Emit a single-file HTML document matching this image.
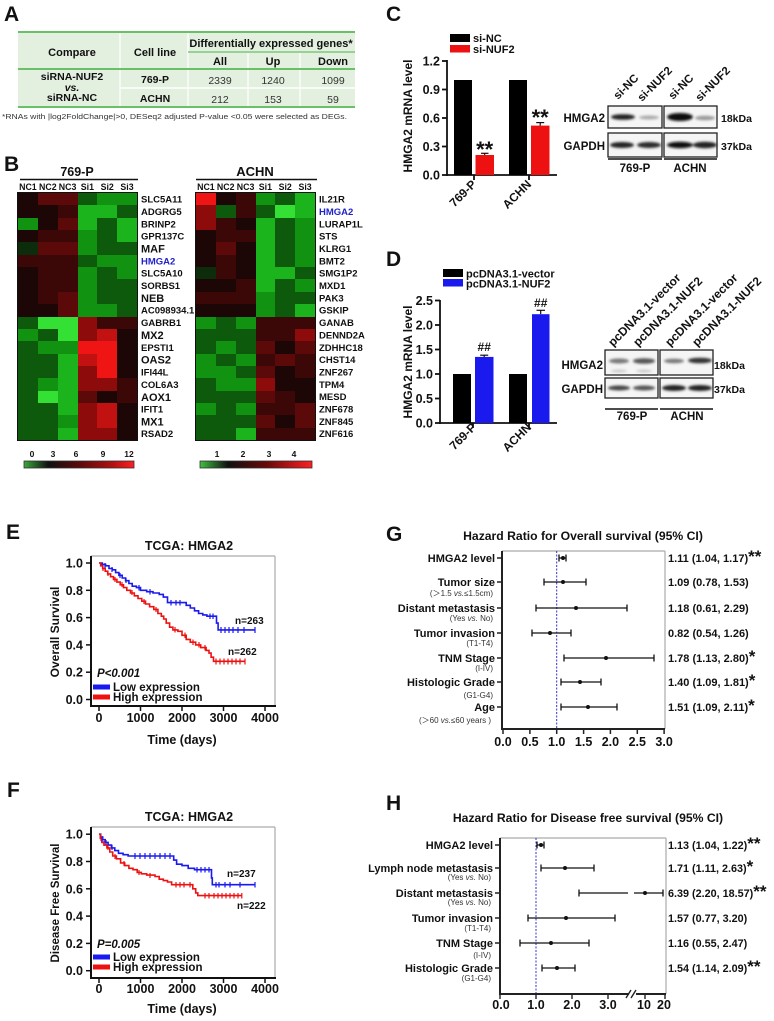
<!DOCTYPE html>
<html><head><meta charset="utf-8">
<style>
html,body{margin:0;padding:0;background:#fff;}
#w{position:relative;width:774px;height:1021px;overflow:hidden;background:#fff;}
svg{position:absolute;left:0;top:0;}
svg text{font-family:"Liberation Sans",Arial,sans-serif;font-weight:bold;fill:#111;}
.hm{position:absolute;width:119px;height:247px;display:grid;grid-template-columns:repeat(6,1fr);grid-template-rows:repeat(20,1fr);box-shadow:0 0 0 1px #111;}
.hm i{display:block}
.k{background:#1c0606}.a{background:#3c0707}.b{background:#5c0909}.c{background:#8e0b0b}.e{background:#c21111}.f{background:#f01515}
.o{background:#0c2c0c}.p{background:#0d5a0d}.q{background:#119211}.s{background:#1cb41c}.t{background:#34e034}
</style></head>
<body><div id="w">
<svg width="774" height="1021" viewBox="0 0 774 1021" xmlns="http://www.w3.org/2000/svg">
<defs>
<filter id="bl" x="-30%" y="-100%" width="160%" height="300%"><feGaussianBlur stdDeviation="1.3"/></filter>
<linearGradient id="cb1" x1="0" x2="1" y1="0" y2="0"><stop offset="0" stop-color="#3aa83a"/><stop offset="0.22" stop-color="#101010"/><stop offset="0.5" stop-color="#5a0a0a"/><stop offset="0.8" stop-color="#b01010"/><stop offset="1" stop-color="#ff2020"/></linearGradient>
<linearGradient id="cb2" x1="0" x2="1" y1="0" y2="0"><stop offset="0" stop-color="#40c040"/><stop offset="0.25" stop-color="#101010"/><stop offset="0.6" stop-color="#6a0a0a"/><stop offset="1" stop-color="#ff2020"/></linearGradient>
</defs>

<!-- Panel letters -->
<text x="4" y="21" font-size="21">A</text>
<text x="4" y="171" font-size="21">B</text>
<text x="386" y="21" font-size="21">C</text>
<text x="386" y="266" font-size="21">D</text>
<text x="6" y="539" font-size="21">E</text>
<text x="7" y="797" font-size="21">F</text>
<text x="386" y="541" font-size="21">G</text>
<text x="386" y="810" font-size="21">H</text>

<!-- Panel A table -->
<rect x="18" y="32" width="337" height="75" fill="#e3f0df"/>
<g stroke="#fff" stroke-width="1.2">
<line x1="120" y1="33" x2="120" y2="106"/><line x1="188" y1="33" x2="188" y2="106"/>
<line x1="248" y1="53" x2="248" y2="106"/><line x1="300" y1="53" x2="300" y2="106"/>
<line x1="120" y1="88" x2="355" y2="88" stroke-width="1.5"/>
</g>
<g stroke="#6abf69">
<line x1="18" y1="32" x2="355" y2="32" stroke-width="2"/>
<line x1="188" y1="52" x2="355" y2="52" stroke-width="1.3"/>
<line x1="18" y1="69" x2="355" y2="69" stroke-width="2"/>
<line x1="18" y1="107" x2="355" y2="107" stroke-width="2"/>
</g>
<g font-size="11" text-anchor="middle">
<text x="72" y="56">Compare</text>
<text x="155" y="56">Cell line</text>
<text x="271" y="47">Differentially expressed genes*</text>
<text x="220" y="65">All</text><text x="273" y="65">Up</text><text x="333" y="65">Down</text>
</g>
<g font-size="10.5" text-anchor="middle">
<text x="72" y="80">siRNA-NUF2</text>
<text x="72" y="91" font-style="italic">vs.</text>
<text x="72" y="101">siRNA-NC</text>
<text x="155" y="83">769-P</text>
<text x="155" y="102">ACHN</text>
</g>
<g font-size="10.5" text-anchor="middle">
<text x="220" y="84" style="font-weight:normal;fill:#333">2339</text>
<text x="273" y="84" style="font-weight:normal;fill:#333">1240</text>
<text x="333" y="84" style="font-weight:normal;fill:#333">1099</text>
<text x="220" y="103" style="font-weight:normal;fill:#333">212</text>
<text x="273" y="103" style="font-weight:normal;fill:#333">153</text>
<text x="333" y="103" style="font-weight:normal;fill:#333">59</text>
</g>
<text x="2" y="119" font-size="7.6" style="font-weight:normal;fill:#333" textLength="345" lengthAdjust="spacingAndGlyphs">*RNAs with  |log2FoldChange|&gt;0, DESeq2 adjusted P-value &lt;0.05 were selected as DEGs.</text>

<!-- Panel B titles -->
<text x="77" y="176" font-size="12.5" text-anchor="middle">769-P</text>
<line x1="20" y1="179.5" x2="138" y2="179.5" stroke="#111" stroke-width="1.5"/>
<text x="255" y="176" font-size="13" text-anchor="middle">ACHN</text>
<line x1="196" y1="179.5" x2="317" y2="179.5" stroke="#111" stroke-width="1.5"/>
<g font-size="8.8" text-anchor="middle">
<text x="27.9" y="190">NC1</text><text x="47.8" y="190">NC2</text><text x="67.6" y="190">NC3</text>
<text x="87.4" y="190">Si1</text><text x="107.2" y="190">Si2</text><text x="127" y="190">Si3</text>
<text x="205.9" y="190">NC1</text><text x="225.7" y="190">NC2</text><text x="245.6" y="190">NC3</text>
<text x="265.4" y="190">Si1</text><text x="285.2" y="190">Si2</text><text x="305.1" y="190">Si3</text>
</g>
<g font-size="9.5">
<text x="141" y="202.6">SLC5A11</text>
<text x="141" y="214.9">ADGRG5</text>
<text x="141" y="227.3">BRINP2</text>
<text x="141" y="239.6">GPR137C</text>
<text x="141" y="252.6" font-size="11">MAF</text>
<text x="141" y="264.3" style="fill:#2222cc">HMGA2</text>
<text x="141" y="276.7">SLC5A10</text>
<text x="141" y="289.0">SORBS1</text>
<text x="141" y="302" font-size="11">NEB</text>
<text x="141" y="313.7">AC098934.1</text>
<text x="141" y="326.1">GABRB1</text>
<text x="141" y="339" font-size="11">MX2</text>
<text x="141" y="350.8">EPSTI1</text>
<text x="141" y="363.7" font-size="11">OAS2</text>
<text x="141" y="375.5">IFI44L</text>
<text x="141" y="387.8">COL6A3</text>
<text x="141" y="400.8" font-size="11">AOX1</text>
<text x="141" y="412.5">IFIT1</text>
<text x="141" y="425.5" font-size="11">MX1</text>
<text x="141" y="437.2">RSAD2</text>

<text x="319" y="202.6">IL21R</text>
<text x="319" y="214.9" style="fill:#2222cc">HMGA2</text>
<text x="319" y="227.3">LURAP1L</text>
<text x="319" y="239.6">STS</text>
<text x="319" y="252.0">KLRG1</text>
<text x="319" y="264.3">BMT2</text>
<text x="319" y="276.7">SMG1P2</text>
<text x="319" y="289.0">MXD1</text>
<text x="319" y="301.4">PAK3</text>
<text x="319" y="313.7">GSKIP</text>
<text x="319" y="326.1">GANAB</text>
<text x="319" y="338.4">DENND2A</text>
<text x="319" y="350.8">ZDHHC18</text>
<text x="319" y="363.1">CHST14</text>
<text x="319" y="375.5">ZNF267</text>
<text x="319" y="387.8">TPM4</text>
<text x="319" y="400.2">MESD</text>
<text x="319" y="412.5">ZNF678</text>
<text x="319" y="424.9">ZNF845</text>
<text x="319" y="437.2">ZNF616</text>
</g>
<!-- colorbars -->
<g font-size="8.5" text-anchor="middle">
<text x="32" y="457">0</text><text x="53" y="457">3</text><text x="76" y="457">6</text><text x="103" y="457">9</text><text x="129" y="457">12</text>
<text x="217" y="457">1</text><text x="243" y="457">2</text><text x="269" y="457">3</text><text x="294" y="457">4</text>
</g>
<rect x="24" y="461" width="110" height="7" fill="url(#cb1)" stroke="#333" stroke-width="0.8"/>
<rect x="200" y="461" width="112" height="7" fill="url(#cb2)" stroke="#333" stroke-width="0.8"/>

<!-- Panel C bar chart -->
<rect x="450" y="34" width="20" height="8" fill="#000"/>
<text x="473" y="42" font-size="11">si-NC</text>
<rect x="450" y="45" width="20" height="7.5" fill="#ee1111"/>
<text x="473" y="53" font-size="11">si-NUF2</text>
<text transform="translate(412,116) rotate(-90)" font-size="12" text-anchor="middle">HMGA2 mRNA level</text>
<g stroke="#111" stroke-width="1.8">
<line x1="447" y1="60" x2="447" y2="176"/>
<line x1="446" y1="175" x2="557" y2="175"/>
<line x1="442" y1="175" x2="447" y2="175"/><line x1="442" y1="146.5" x2="447" y2="146.5"/>
<line x1="442" y1="118" x2="447" y2="118"/><line x1="442" y1="89.5" x2="447" y2="89.5"/>
<line x1="442" y1="61" x2="447" y2="61"/>
<line x1="474" y1="175" x2="474" y2="180"/><line x1="529" y1="175" x2="529" y2="180"/>
</g>
<g font-size="12.5" text-anchor="end">
<text x="440" y="179.5">0.0</text><text x="440" y="151">0.3</text><text x="440" y="122.5">0.6</text>
<text x="440" y="94">0.9</text><text x="440" y="65.5">1.2</text>
</g>
<rect x="454" y="80" width="18" height="95" fill="#000"/>
<rect x="475.5" y="155" width="18.5" height="20" fill="#ee1111"/>
<rect x="509" y="80" width="18" height="95" fill="#000"/>
<rect x="531" y="125.6" width="18.5" height="49.4" fill="#ee1111"/>
<g stroke="#111" stroke-width="1.2">
<line x1="484.7" y1="153.3" x2="484.7" y2="155"/><line x1="481" y1="153.3" x2="488.5" y2="153.3"/>
<line x1="540.2" y1="122.6" x2="540.2" y2="125.6"/><line x1="536.2" y1="122.6" x2="544.2" y2="122.6"/>
</g>
<text x="484.7" y="157" font-size="22" text-anchor="middle">**</text>
<text x="540.2" y="125" font-size="22" text-anchor="middle">**</text>
<text transform="translate(477,185) rotate(-45)" font-size="12" text-anchor="end">769-P</text>
<text transform="translate(532,185) rotate(-45)" font-size="12" text-anchor="end">ACHN</text>

<!-- Panel C blot -->
<g font-size="11.5">
<text transform="translate(618,100) rotate(-45)">si-NC</text>
<text transform="translate(642,102) rotate(-45)">si-NUF2</text>
<text transform="translate(673,100) rotate(-45)">si-NC</text>
<text transform="translate(700,102) rotate(-45)">si-NUF2</text>
</g>
<g fill="#f5f5f5" stroke="#222" stroke-width="1.3">
<rect x="608" y="106" width="54" height="22"/><rect x="664" y="106" width="53" height="22"/>
<rect x="608" y="133" width="54" height="24"/><rect x="664" y="133" width="53" height="24"/>
</g>
<g filter="url(#bl)">
<ellipse cx="623" cy="117" rx="12" ry="2.8" fill="#222"/>
<ellipse cx="649" cy="117.5" rx="10" ry="2" fill="#aaa"/>
<ellipse cx="680" cy="117" rx="13" ry="4" fill="#111"/>
<ellipse cx="705" cy="118" rx="10" ry="2.3" fill="#999"/>
<ellipse cx="622" cy="145" rx="12" ry="3" fill="#222"/>
<ellipse cx="649" cy="145" rx="12" ry="3" fill="#2a2a2a"/>
<ellipse cx="680" cy="145" rx="13" ry="3.2" fill="#111"/>
<ellipse cx="705" cy="145" rx="12" ry="3.2" fill="#222"/>
</g>
<text x="605" y="122" font-size="11.5" text-anchor="end">HMGA2</text>
<text x="605" y="150" font-size="11.5" text-anchor="end">GAPDH</text>
<text x="721" y="122" font-size="10.5">18kDa</text>
<text x="721" y="150" font-size="10.5">37kDa</text>
<g stroke="#111" stroke-width="1.5"><line x1="608" y1="159" x2="662" y2="159"/><line x1="664" y1="159" x2="717" y2="159"/></g>
<text x="635" y="172" font-size="11.5" text-anchor="middle">769-P</text>
<text x="690" y="172" font-size="11.5" text-anchor="middle">ACHN</text>

<!-- Panel D bar chart -->
<rect x="443" y="269" width="20" height="8" fill="#000"/>
<text x="466" y="277.5" font-size="11">pcDNA3.1-vector</text>
<rect x="443" y="279" width="20" height="7.5" fill="#1a1aee"/>
<text x="466" y="287.5" font-size="11">pcDNA3.1-NUF2</text>
<text transform="translate(412,362) rotate(-90)" font-size="12" text-anchor="middle">HMGA2 mRNA level</text>
<g stroke="#111" stroke-width="1.8">
<line x1="440" y1="300" x2="440" y2="424"/>
<line x1="439" y1="423" x2="557" y2="423"/>
<line x1="435" y1="423" x2="440" y2="423"/><line x1="435" y1="398.5" x2="440" y2="398.5"/>
<line x1="435" y1="374" x2="440" y2="374"/><line x1="435" y1="349.5" x2="440" y2="349.5"/>
<line x1="435" y1="325" x2="440" y2="325"/><line x1="435" y1="300.5" x2="440" y2="300.5"/>
<line x1="473" y1="423" x2="473" y2="428"/><line x1="529" y1="423" x2="529" y2="428"/>
</g>
<g font-size="12.5" text-anchor="end">
<text x="433" y="427.5">0.0</text><text x="433" y="403">0.5</text><text x="433" y="378.5">1.0</text>
<text x="433" y="354">1.5</text><text x="433" y="329.5">2.0</text><text x="433" y="305">2.5</text>
</g>
<rect x="453" y="374" width="18" height="49" fill="#000"/>
<rect x="475" y="356.9" width="18.5" height="66.1" fill="#1a1aee"/>
<rect x="509" y="374" width="18" height="49" fill="#000"/>
<rect x="532" y="314.2" width="17.5" height="108.8" fill="#1a1aee"/>
<g stroke="#111" stroke-width="1.2">
<line x1="484.2" y1="355.2" x2="484.2" y2="357"/><line x1="480.2" y1="355.2" x2="488.2" y2="355.2"/>
<line x1="540.7" y1="310.3" x2="540.7" y2="314.2"/><line x1="536.5" y1="310.3" x2="545" y2="310.3"/>
</g>
<text x="484.2" y="351" font-size="12" text-anchor="middle">##</text>
<text x="540.7" y="307" font-size="12" text-anchor="middle">##</text>
<text transform="translate(477,428) rotate(-45)" font-size="12" text-anchor="end">769-P</text>
<text transform="translate(532,428) rotate(-45)" font-size="12" text-anchor="end">ACHN</text>

<!-- Panel D blot -->
<g font-size="12">
<text transform="translate(613,347) rotate(-45)">pcDNA3.1-vector</text>
<text transform="translate(638,347) rotate(-45)">pcDNA3.1-NUF2</text>
<text transform="translate(670,347) rotate(-45)">pcDNA3.1-vector</text>
<text transform="translate(697,347) rotate(-45)">pcDNA3.1-NUF2</text>
</g>
<g fill="#f5f5f5" stroke="#222" stroke-width="1.3">
<rect x="605" y="350" width="53" height="25"/><rect x="660" y="350" width="53" height="25"/>
<rect x="605" y="378" width="53" height="20"/><rect x="660" y="378" width="53" height="20"/>
</g>
<g filter="url(#bl)">
<ellipse cx="619" cy="361" rx="10" ry="2.5" fill="#777"/>
<ellipse cx="644" cy="361" rx="11" ry="2.8" fill="#555"/>
<ellipse cx="674" cy="361" rx="10" ry="2.3" fill="#777"/>
<ellipse cx="700" cy="360.5" rx="12" ry="2.8" fill="#333"/>
<ellipse cx="619" cy="371" rx="8" ry="1.5" fill="#ccc"/>
<ellipse cx="644" cy="371" rx="8" ry="1.5" fill="#ccc"/>
<ellipse cx="619" cy="388" rx="11" ry="2.5" fill="#444"/>
<ellipse cx="644" cy="388" rx="11" ry="2.5" fill="#555"/>
<ellipse cx="674" cy="388" rx="12" ry="3" fill="#222"/>
<ellipse cx="700" cy="388" rx="12" ry="3" fill="#222"/>
</g>
<text x="603" y="369" font-size="11.5" text-anchor="end">HMGA2</text>
<text x="603" y="393" font-size="11.5" text-anchor="end">GAPDH</text>
<text x="714" y="369" font-size="10.5">18kDa</text>
<text x="714" y="393" font-size="10.5">37kDa</text>
<g stroke="#111" stroke-width="1.5"><line x1="605" y1="409" x2="658" y2="409"/><line x1="660" y1="409" x2="713" y2="409"/></g>
<text x="632" y="420" font-size="11.5" text-anchor="middle">769-P</text>
<text x="687" y="420" font-size="11.5" text-anchor="middle">ACHN</text>

<!-- Panel E -->
<text x="189" y="550" font-size="12.5" text-anchor="middle">TCGA: HMGA2</text>
<g stroke="#aaa" stroke-width="1.2"><line x1="91" y1="556" x2="275" y2="556"/><line x1="275" y1="556" x2="275" y2="706"/></g>
<g stroke="#111" stroke-width="2">
<line x1="91" y1="556" x2="91" y2="707"/><line x1="90" y1="706" x2="276" y2="706"/>
</g>
<g stroke="#111" stroke-width="1.5">
<line x1="86" y1="563" x2="91" y2="563"/><line x1="86" y1="590.3" x2="91" y2="590.3"/><line x1="86" y1="617.6" x2="91" y2="617.6"/>
<line x1="86" y1="644.9" x2="91" y2="644.9"/><line x1="86" y1="672.2" x2="91" y2="672.2"/><line x1="86" y1="699.5" x2="91" y2="699.5"/>
<line x1="99" y1="706" x2="99" y2="711"/><line x1="140.5" y1="706" x2="140.5" y2="711"/><line x1="182" y1="706" x2="182" y2="711"/>
<line x1="223.5" y1="706" x2="223.5" y2="711"/><line x1="265" y1="706" x2="265" y2="711"/>
</g>
<g font-size="12.5" text-anchor="end">
<text x="83" y="567.5">1.0</text><text x="83" y="594.8">0.8</text><text x="83" y="622.1">0.6</text>
<text x="83" y="649.4">0.4</text><text x="83" y="676.7">0.2</text><text x="83" y="704">0.0</text>
</g>
<g font-size="12.5" text-anchor="middle">
<text x="99" y="722">0</text><text x="140.5" y="722">1000</text><text x="182" y="722">2000</text><text x="223.5" y="722">3000</text><text x="265" y="722">4000</text>
<text x="182" y="744">Time (days)</text>
</g>
<text transform="translate(59,632) rotate(-90)" font-size="12" text-anchor="middle">Overall Survival</text>
<path d="M99,563 H102.3 V564.4 H105.6 V565.8 H109 V568.5 H112.3 V569.8 H115.6 V572.6 H118.9 V575.3 H122.2 V578 H125.6 V580.7 H128.9 V583.5 H132.2 V586.2 H136.4 V587.6 H140.5 V590.3 H146.7 V591.7 H153 V593 H159.2 V594.4 H163.3 V597.1 H167.5 V602.6 H186.2 V605.3 H190.3 V608 H194.5 V610.8 H198.6 V613.5 H202.8 V614.9 H206.9 V616.2 H216.5 V623.1 H218.1 V629.9 H255" fill="none" stroke="#1a1aee" stroke-width="1.6"/>
<path d="M99,563 H100.7 V565.8 H102.7 V568.5 H105.2 V571.2 H107.7 V573.9 H110.6 V576.7 H113.5 V579.4 H116.9 V582.1 H120.2 V584.8 H123.5 V587.6 H126.8 V590.3 H130.5 V593 H134.3 V595.8 H138 V598.5 H141.8 V601.2 H145.5 V604 H149.6 V606.7 H153.8 V609.4 H157.9 V613.5 H161.3 V616.2 H163.7 V619 H166.2 V623.1 H169.6 V627.2 H172.9 V629.9 H177.9 V631.3 H182 V635.3 H186.2 V639.4 H190.3 V642.2 H195.7 V644.9 H200.7 V647.6 H206.1 V650.4 H209 V653.1 H211.1 V657.2 H213.5 V661.3 H245.1" fill="none" stroke="#ee1111" stroke-width="1.6"/>
<g stroke="#1a1aee" stroke-width="1.2">
<path d="M221,627v6M225,627v6M229,627v6M233,627v6M238,627v6M244,627v6M255,627v6M150,589v5.5M171,600v5.5M176,600v5.5M180,600v5.5M210,613.5v5.5M213,613.5v5.5M139,585v5.5M105,563v5M112,567v5M120,573v5M126,578v5"/>
</g>
<g stroke="#ee1111" stroke-width="1.2">
<path d="M216,658.5v6M220,658.5v6M224,658.5v6M228,658.5v6M232,658.5v6M236,658.5v6M240,658.5v6M245,658.5v6M175,627v5.5M185,632.5v5.5M193,639.5v5.5M199,642v5.5M205,645v5.5M103,566v5M108,571v5M115,577v5M122,582v5M132,590v5M144,599v5M156,607v5"/>
</g>
<text x="235" y="624" font-size="10">n=263</text>
<text x="228" y="655" font-size="10">n=262</text>
<text x="97" y="677" font-size="11.5" font-style="italic">P&lt;0.001</text>
<rect x="93" y="684.5" width="17" height="5" fill="#1a1aee"/>
<text x="113" y="691" font-size="11.5">Low expression</text>
<rect x="93" y="694.5" width="17" height="5" fill="#ee1111"/>
<text x="113" y="701" font-size="11.5">High expression</text>

<!-- Panel F -->
<text x="189" y="821" font-size="12.5" text-anchor="middle">TCGA: HMGA2</text>
<g stroke="#aaa" stroke-width="1.2"><line x1="91" y1="827" x2="275" y2="827"/><line x1="275" y1="827" x2="275" y2="978"/></g>
<g stroke="#111" stroke-width="2">
<line x1="91" y1="827" x2="91" y2="979"/><line x1="90" y1="978" x2="276" y2="978"/>
</g>
<g stroke="#111" stroke-width="1.5">
<line x1="86" y1="834.2" x2="91" y2="834.2"/><line x1="86" y1="861.5" x2="91" y2="861.5"/><line x1="86" y1="888.8" x2="91" y2="888.8"/>
<line x1="86" y1="916.1" x2="91" y2="916.1"/><line x1="86" y1="943.4" x2="91" y2="943.4"/><line x1="86" y1="970.7" x2="91" y2="970.7"/>
<line x1="99" y1="978" x2="99" y2="983"/><line x1="140.5" y1="978" x2="140.5" y2="983"/><line x1="182" y1="978" x2="182" y2="983"/>
<line x1="223.5" y1="978" x2="223.5" y2="983"/><line x1="265" y1="978" x2="265" y2="983"/>
</g>
<g font-size="12.5" text-anchor="end">
<text x="83" y="838.7">1.0</text><text x="83" y="866">0.8</text><text x="83" y="893.3">0.6</text>
<text x="83" y="920.6">0.4</text><text x="83" y="947.9">0.2</text><text x="83" y="975.2">0.0</text>
</g>
<g font-size="12.5" text-anchor="middle">
<text x="99" y="993">0</text><text x="140.5" y="993">1000</text><text x="182" y="993">2000</text><text x="223.5" y="993">3000</text><text x="265" y="993">4000</text>
<text x="182" y="1013">Time (days)</text>
</g>
<text transform="translate(59,903) rotate(-90)" font-size="11.5" text-anchor="middle">Disease Free Survival</text>
<path d="M99,834.2 H100.7 V836.9 H102.7 V839.7 H105.2 V842.4 H108.1 V845.1 H111.5 V847.9 H114.8 V850.6 H118.5 V853.3 H123.1 V854.7 H128.1 V856 H173.7 V860.1 H176.6 V864.2 H182 V865.6 H188.2 V868.3 H194.5 V869.7 H211.5 V877.9 H212.3 V884.7 H255" fill="none" stroke="#1a1aee" stroke-width="1.6"/>
<path d="M99,834.2 H100.3 V838.3 H101.9 V842.4 H104 V845.1 H106.9 V847.9 H109.8 V852 H112.7 V856 H116.4 V858.8 H120.6 V862.9 H124.7 V865.6 H128.9 V868.3 H133 V869.7 H137.2 V872.4 H141.3 V873.8 H146.7 V875.1 H155 V876.5 H159.2 V879.2 H163.3 V880.6 H167.5 V882 H171.6 V884.7 H192.8 V888.8 H195.7 V892.9 H197.8 V895.6 H241.8" fill="none" stroke="#ee1111" stroke-width="1.6"/>
<g stroke="#1a1aee" stroke-width="1.2">
<path d="M135,853v6M140,853v6M145,853v6M150,853v6M155,853v6M160,853v6M165,853v6M170,853v6M197,867v5.5M201,867v5.5M205,867v5.5M209,867v5.5M216,882v5.5M219,882v5.5M225,882v5.5M230,882v5.5M240,882v5.5M255,882v5.5M102,837v5M106,840v5M112,845v5"/>
</g>
<g stroke="#ee1111" stroke-width="1.2">
<path d="M176,882v5.5M180,882v5.5M184,882v5.5M190,882v5.5M205,893v5.5M209,893v5.5M214,893v5.5M218,893v5.5M222,893v5.5M226,893v5.5M230,893v5.5M234,893v5.5M238,893v5.5M241.8,893v5.5M101,836v5M104,841v5M108,845v5M115,854v5M124,861v5M139,870v5M150,873v5"/>
</g>
<text x="227" y="877" font-size="10">n=237</text>
<text x="237" y="909" font-size="10">n=222</text>
<text x="97" y="948" font-size="11.5" font-style="italic">P=0.005</text>
<rect x="93" y="954.5" width="17" height="5" fill="#1a1aee"/>
<text x="113" y="961" font-size="11.5">Low expression</text>
<rect x="93" y="964.5" width="17" height="5" fill="#ee1111"/>
<text x="113" y="971" font-size="11.5">High expression</text>

<!-- Panel G -->
<text x="583" y="540" font-size="12.2" text-anchor="middle">Hazard Ratio for Overall survival (95% CI)</text>
<g stroke="#aaa" stroke-width="1.2"><line x1="502" y1="551" x2="665" y2="551"/><line x1="665" y1="551" x2="665" y2="729"/></g>
<line x1="556.7" y1="551" x2="556.7" y2="729" stroke="#3333cc" stroke-width="1" stroke-dasharray="2,1.5"/>
<g stroke="#222" stroke-width="2"><line x1="502" y1="551" x2="502" y2="730"/><line x1="501" y1="729" x2="665" y2="729"/></g>
<g stroke="#222" stroke-width="1.5">
<path d="M497,558H502M497,582H502M497,608H502M497,633H502M497,658H502M497,682H502M497,707H502"/>
<path d="M503,729v5M529.9,729v5M556.7,729v5M583.6,729v5M610.4,729v5M637.3,729v5M664.1,729v5"/>
</g>
<g font-size="12.5" text-anchor="middle">
<text x="503" y="746">0.0</text><text x="529.9" y="746">0.5</text><text x="556.7" y="746">1.0</text><text x="583.6" y="746">1.5</text>
<text x="610.4" y="746">2.0</text><text x="637.3" y="746">2.5</text><text x="664.1" y="746">3.0</text>
</g>
<g stroke="#111" stroke-width="1.3">
<path d="M559,558H566M559,554.5V561.5M566,554.5V561.5"/>
<path d="M544,582H586M544,578.5V585.5M586,578.5V585.5"/>
<path d="M536,608H627M536,604.5V611.5M627,604.5V611.5"/>
<path d="M532,633H571M532,629.5V636.5M571,629.5V636.5"/>
<path d="M564,658H654M564,654.5V661.5M654,654.5V661.5"/>
<path d="M561,682H601M561,678.5V685.5M601,678.5V685.5"/>
<path d="M561,707H617M561,703.5V710.5M617,703.5V710.5"/>
</g>
<g fill="#111">
<circle cx="563" cy="558" r="2"/><circle cx="563" cy="582" r="2"/><circle cx="576" cy="608" r="2"/>
<circle cx="550" cy="633" r="2"/><circle cx="606" cy="658" r="2"/><circle cx="580" cy="682" r="2"/><circle cx="588" cy="707" r="2"/>
</g>
<g font-size="11" text-anchor="end">
<text x="495" y="562">HMGA2 level</text>
<text x="495" y="586">Tumor size</text>
<text x="495" y="612">Distant metastasis</text>
<text x="495" y="637">Tumor invasion</text>
<text x="495" y="662">TNM Stage</text>
<text x="495" y="686">Histologic Grade</text>
<text x="495" y="711">Age</text>
</g>
<g font-size="8" text-anchor="end">
<text x="493" y="596" style="font-weight:normal;fill:#333">(＞1.5 <tspan font-style="italic">vs.</tspan>≤1.5cm)</text>
<text x="493" y="621" style="font-weight:normal;fill:#333">(Yes <tspan font-style="italic">vs.</tspan> No)</text>
<text x="493" y="646" style="font-weight:normal;fill:#333">(T1-T4)</text>
<text x="493" y="671" style="font-weight:normal;fill:#333">(I-IV)</text>
<text x="493" y="698" style="font-weight:normal;fill:#333">(G1-G4)</text>
<text x="491" y="723" style="font-weight:normal;fill:#333">(＞60 <tspan font-style="italic">vs.</tspan>≤60 years )</text>
</g>
<g font-size="11">
<text x="668" y="562">1.11 (1.04, 1.17)<tspan font-size="17">**</tspan></text>
<text x="668" y="586">1.09 (0.78, 1.53)</text>
<text x="668" y="612">1.18 (0.61, 2.29)</text>
<text x="668" y="637">0.82 (0.54, 1.26)</text>
<text x="668" y="662">1.78 (1.13, 2.80)<tspan font-size="17">*</tspan></text>
<text x="668" y="686">1.40 (1.09, 1.81)<tspan font-size="17">*</tspan></text>
<text x="668" y="711">1.51 (1.09, 2.11)<tspan font-size="17">*</tspan></text>
</g>

<!-- Panel H -->
<text x="588" y="822" font-size="12.2" text-anchor="middle">Hazard Ratio for Disease free survival (95% CI)</text>
<g stroke="#aaa" stroke-width="1.2"><line x1="500" y1="838" x2="666" y2="838"/><line x1="666" y1="838" x2="666" y2="994"/></g>
<line x1="536" y1="838" x2="536" y2="994" stroke="#3333cc" stroke-width="1" stroke-dasharray="2,1.5"/>
<g stroke="#222" stroke-width="2"><line x1="500" y1="838" x2="500" y2="995"/><line x1="499" y1="994" x2="629" y2="994"/><line x1="636" y1="994" x2="666" y2="994"/></g>
<g stroke="#222" stroke-width="1.4">
<path d="M626,998L631,990M631,998L636,990"/>
<path d="M495,845H500M495,868H500M495,893H500M495,918H500M495,943H500M495,968H500"/>
<path d="M500,994v5M536,994v5M572,994v5M608,994v5M645,994v5M665,994v5"/>
</g>
<g font-size="12.5" text-anchor="middle">
<text x="501" y="1009">0.0</text><text x="536" y="1009">1.0</text><text x="572" y="1009">2.0</text>
<text x="608" y="1009">3.0</text><text x="644" y="1009">10</text><text x="664" y="1009">20</text>
</g>
<g stroke="#111" stroke-width="1.3">
<path d="M537,845H544M537,841.5V848.5M544,841.5V848.5"/>
<path d="M541,868H594M541,864.5V871.5M594,864.5V871.5"/>
<path d="M579,893H628M634,893H663M579,889.5V896.5M663,889.5V896.5"/>
<path d="M528,918H615M528,914.5V921.5M615,914.5V921.5"/>
<path d="M520,943H589M520,939.5V946.5M589,939.5V946.5"/>
<path d="M542,968H575M542,964.5V971.5M575,964.5V971.5"/>
</g>
<g fill="#111">
<circle cx="541" cy="845" r="2"/><circle cx="565" cy="868" r="2"/><circle cx="645" cy="893" r="2"/>
<circle cx="566" cy="918" r="2"/><circle cx="551" cy="943" r="2"/><circle cx="557" cy="968" r="2"/>
</g>
<g font-size="11" text-anchor="end">
<text x="493" y="849">HMGA2 level</text>
<text x="493" y="872">Lymph node metastasis</text>
<text x="493" y="897">Distant metastasis</text>
<text x="493" y="922">Tumor invasion</text>
<text x="493" y="947">TNM Stage</text>
<text x="493" y="972">Histologic Grade</text>
</g>
<g font-size="8" text-anchor="end">
<text x="491" y="880" style="font-weight:normal;fill:#333">(Yes <tspan font-style="italic">vs.</tspan> No)</text>
<text x="491" y="905" style="font-weight:normal;fill:#333">(Yes <tspan font-style="italic">vs.</tspan> No)</text>
<text x="491" y="931" style="font-weight:normal;fill:#333">(T1-T4)</text>
<text x="491" y="958" style="font-weight:normal;fill:#333">(I-IV)</text>
<text x="491" y="981" style="font-weight:normal;fill:#333">(G1-G4)</text>
</g>
<g font-size="10.8">
<text x="668" y="849">1.13 (1.04, 1.22)<tspan font-size="17">**</tspan></text>
<text x="668" y="872">1.71 (1.11, 2.63)<tspan font-size="17">*</tspan></text>
<text x="668" y="897">6.39 (2.20, 18.57)<tspan font-size="17">**</tspan></text>
<text x="668" y="922">1.57 (0.77, 3.20)</text>
<text x="668" y="947">1.16 (0.55, 2.47)</text>
<text x="668" y="972">1.54 (1.14, 2.09)<tspan font-size="17">**</tspan></text>
</g>
</svg>

<div class="hm" style="left:18px;top:193px">
<i class=k></i><i class=b></i><i class=b></i><i class=p></i><i class=q></i><i class=q></i>
<i class=k></i><i class=k></i><i class=a></i><i class=s></i><i class=s></i><i class=p></i>
<i class=q></i><i class=k></i><i class=b></i><i class=s></i><i class=p></i><i class=s></i>
<i class=k></i><i class=a></i><i class=a></i><i class=q></i><i class=p></i><i class=s></i>
<i class=o></i><i class=b></i><i class=b></i><i class=q></i><i class=p></i><i class=p></i>
<i class=a></i><i class=a></i><i class=a></i><i class=p></i><i class=q></i><i class=q></i>
<i class=k></i><i class=a></i><i class=a></i><i class=q></i><i class=p></i><i class=q></i>
<i class=k></i><i class=a></i><i class=a></i><i class=q></i><i class=p></i><i class=p></i>
<i class=k></i><i class=a></i><i class=b></i><i class=q></i><i class=p></i><i class=p></i>
<i class=k></i><i class=k></i><i class=b></i><i class=q></i><i class=q></i><i class=p></i>
<i class=p></i><i class=t></i><i class=t></i><i class=c></i><i class=a></i><i class=a></i>
<i class=q></i><i class=p></i><i class=t></i><i class=c></i><i class=e></i><i class=k></i>
<i class=p></i><i class=q></i><i class=q></i><i class=f></i><i class=f></i><i class=k></i>
<i class=p></i><i class=p></i><i class=s></i><i class=e></i><i class=f></i><i class=k></i>
<i class=p></i><i class=p></i><i class=s></i><i class=c></i><i class=f></i><i class=k></i>
<i class=p></i><i class=q></i><i class=s></i><i class=c></i><i class=c></i><i class=a></i>
<i class=p></i><i class=t></i><i class=s></i><i class=b></i><i class=k></i><i class=a></i>
<i class=p></i><i class=p></i><i class=s></i><i class=c></i><i class=e></i><i class=k></i>
<i class=p></i><i class=p></i><i class=q></i><i class=c></i><i class=e></i><i class=k></i>
<i class=p></i><i class=p></i><i class=s></i><i class=c></i><i class=c></i><i class=k></i>
</div>
<div class="hm" style="left:196px;top:193px">
<i class=f></i><i class=k></i><i class=a></i><i class=q></i><i class=p></i><i class=s></i>
<i class=c></i><i class=p></i><i class=a></i><i class=p></i><i class=t></i><i class=s></i>
<i class=c></i><i class=a></i><i class=k></i><i class=s></i><i class=p></i><i class=q></i>
<i class=k></i><i class=a></i><i class=a></i><i class=s></i><i class=p></i><i class=q></i>
<i class=k></i><i class=b></i><i class=k></i><i class=s></i><i class=p></i><i class=q></i>
<i class=k></i><i class=a></i><i class=k></i><i class=s></i><i class=p></i><i class=q></i>
<i class=o></i><i class=a></i><i class=k></i><i class=s></i><i class=s></i><i class=p></i>
<i class=k></i><i class=k></i><i class=a></i><i class=s></i><i class=p></i><i class=q></i>
<i class=a></i><i class=a></i><i class=a></i><i class=q></i><i class=p></i><i class=p></i>
<i class=k></i><i class=k></i><i class=k></i><i class=q></i><i class=p></i><i class=s></i>
<i class=q></i><i class=p></i><i class=q></i><i class=a></i><i class=a></i><i class=a></i>
<i class=p></i><i class=p></i><i class=p></i><i class=a></i><i class=a></i><i class=c></i>
<i class=p></i><i class=q></i><i class=p></i><i class=b></i><i class=k></i><i class=b></i>
<i class=q></i><i class=p></i><i class=q></i><i class=a></i><i class=b></i><i class=a></i>
<i class=q></i><i class=q></i><i class=p></i><i class=b></i><i class=k></i><i class=a></i>
<i class=p></i><i class=q></i><i class=q></i><i class=c></i><i class=k></i><i class=k></i>
<i class=p></i><i class=p></i><i class=p></i><i class=b></i><i class=a></i><i class=k></i>
<i class=q></i><i class=p></i><i class=q></i><i class=a></i><i class=a></i><i class=b></i>
<i class=p></i><i class=p></i><i class=p></i><i class=b></i><i class=k></i><i class=b></i>
<i class=p></i><i class=p></i><i class=s></i><i class=a></i><i class=a></i><i class=a></i>
</div>
</div></body></html>
